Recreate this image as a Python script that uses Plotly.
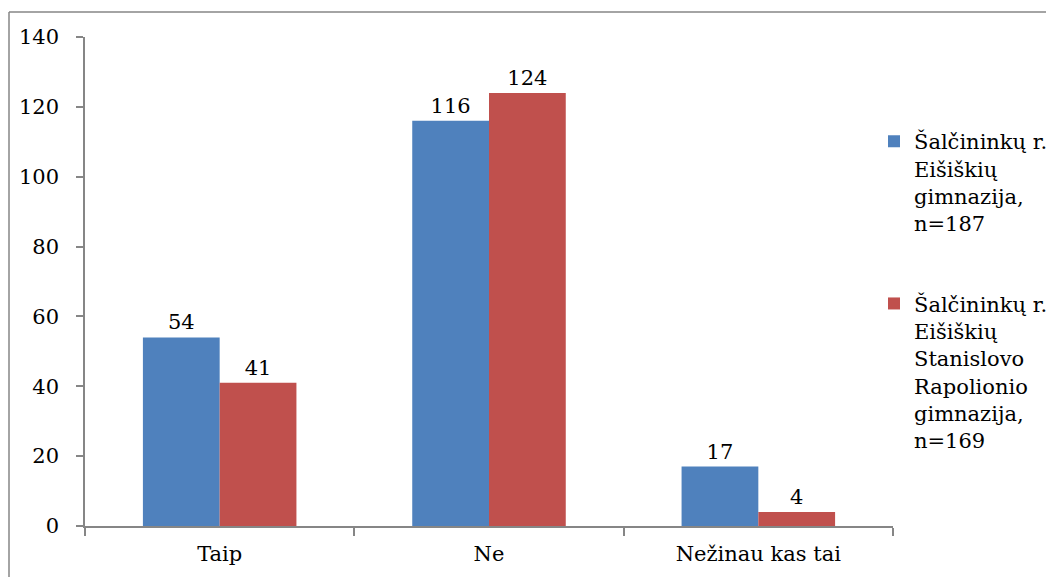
import plotly.graph_objects as go

categories = ["Taip", "Ne", "Nežinau kas tai"]
series1_name = "Šalčininkų r.<br>Eišiškių<br>gimnazija,<br>n=187"
series1_values = [54, 116, 17]
series2_name = "Šalčininkų r.<br>Eišiškių<br>Stanislovo<br>Rapolionio<br>gimnazija,<br>n=169"
series2_values = [41, 124, 4]
y_ticks = [0, 20, 40, 60, 80, 100, 120, 140]

FONT = "DejaVu Serif"
AXIS = "#868686"
FS = 21

fig = go.Figure()
fig.add_trace(go.Bar(x=categories, y=series1_values, name=series1_name,
                     legendgroup="g1",
                     marker=dict(color="#4F81BD", line=dict(width=0)),
                     text=series1_values, textposition="outside",
                     textfont=dict(size=FS, color="black", family=FONT),
                     cliponaxis=False))
fig.add_trace(go.Bar(x=categories, y=series2_values, name=series2_name,
                     legendgroup="g2",
                     marker=dict(color="#C0504D", line=dict(width=0)),
                     text=series2_values, textposition="outside",
                     textfont=dict(size=FS, color="black", family=FONT),
                     cliponaxis=False))

# page body has an 8px margin, so figure coords = screen coords - 8
OFF = 8
W, H = 1054, 577
L, T = 85 - OFF, 37 - OFF
R, B = W - (893 - OFF), H - (526 - OFF)
pw, ph = W - L - R, H - T - B

fig.update_layout(
    template="none",
    width=W, height=H,
    margin=dict(l=L, r=R, t=T, b=B, autoexpand=False),
    plot_bgcolor="white", paper_bgcolor="white",
    barmode="group", bargap=0.43, bargroupgap=0,
    font=dict(family=FONT, size=FS, color="black"),
    showlegend=True,
    legend=dict(x=1 - 19 / pw, xanchor="left", y=0.828, yanchor="top",
                font=dict(size=FS, family=FONT, color="black"), valign="top",
                tracegroupgap=50, itemwidth=30,
                bgcolor="rgba(0,0,0,0)"),
)
fig.update_xaxes(showline=True, linecolor=AXIS, linewidth=1.5,
                 ticks="outside", tickson="boundaries", ticklen=8,
                 tickcolor=AXIS, tickwidth=1.5, showgrid=False,
                 automargin=False, ticklabelstandoff=8,
                 tickfont=dict(size=FS, family=FONT, color="black"))
fig.update_yaxes(range=[0, 140], tickvals=y_ticks, showline=True,
                 linecolor=AXIS, linewidth=1.5, ticks="outside", ticklen=7,
                 tickcolor=AXIS, tickwidth=1.5, showgrid=False, zeroline=False,
                 ticklabelstandoff=13, automargin=False,
                 tickfont=dict(size=FS, family=FONT, color="black"))
# outer chart frame: only top and left edges are visible in the window
fig.add_shape(type="line", xref="paper", yref="paper",
              x0=(9 - OFF - L) / pw, x1=(W + 20 - L) / pw,
              y0=1 + (T - (12 - OFF)) / ph, y1=1 + (T - (12 - OFF)) / ph,
              line=dict(color=AXIS, width=1.5))
fig.add_shape(type="line", xref="paper", yref="paper",
              x0=(9 - OFF - L) / pw, x1=(9 - OFF - L) / pw,
              y0=-(B + 20) / ph, y1=1 + (T - (12 - OFF)) / ph,
              line=dict(color=AXIS, width=1.5))

fig.write_html("out.html")
